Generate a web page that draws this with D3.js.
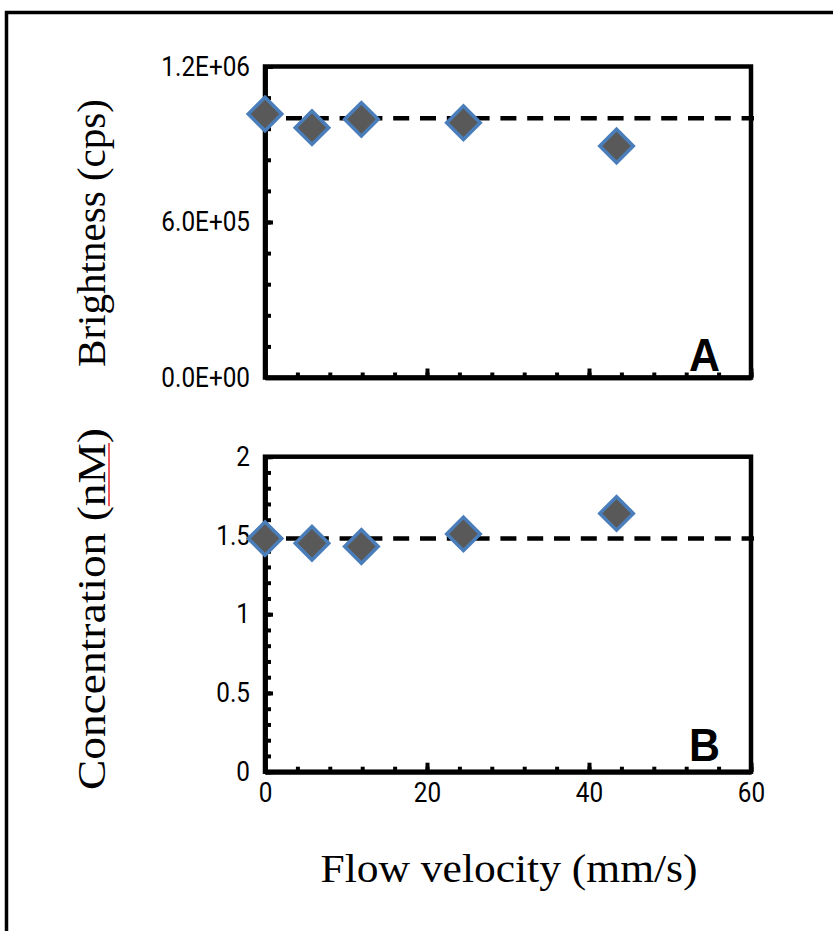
<!DOCTYPE html>
<html>
<head>
<meta charset="utf-8">
<script src="https://cdn.jsdelivr.net/npm/d3@7"></script>
<style>
  body { margin: 0; background: #fff; }
  svg { display: block; }
</style>
</head>
<body>
<div id="chart"></div>
<script>
// flow velocity (mm/s) of each measurement
var velocity = [0, 5.8, 11.9, 24.5, 43.4];
// panel A: brightness (cps)
var brightness = [1.017e6, 0.964e6, 0.996e6, 0.983e6, 0.893e6];
var brightnessMean = 1.0e6;
// panel B: concentration (nM)
var concentration = [1.48, 1.45, 1.43, 1.51, 1.64];
var concentrationMean = 1.48;

var velocityTicks = [0, 20, 40, 60];
var brightnessTicks = [0, 6e5, 1.2e6];
var concentrationTicks = [0, 0.5, 1, 1.5, 2];

var width = 833, height = 931;
var tickFont = "'Liberation Sans Narrow', 'Roboto', sans-serif";
var titleFont = "'Liberation Serif', serif";

var svg = d3.select("#chart").append("svg")
    .attr("width", width)
    .attr("height", height);

// page frame (runs off the right and bottom edge)
svg.append("rect")
    .attr("x", 6.5)
    .attr("y", 12.5)
    .attr("width", 900)
    .attr("height", 1000)
    .attr("fill", "none")
    .attr("stroke", "#000")
    .attr("stroke-width", 3.5);

var x = d3.scaleLinear().domain([0, 60]).range([265, 751]);

function sciLabel(v) {
    var parts = d3.format(".1e")(v).split("e");
    var exp = parseInt(parts[1], 10);
    return parts[0] + "E" + (exp < 0 ? "-" : "+") + String(Math.abs(exp)).padStart(2, "0");
}

function drawPanel(cfg) {
    var y = d3.scaleLinear().domain(cfg.domain).range([cfg.bottom, cfg.top]);
    var g = svg.append("g");

    // minor ticks, pointing into the plot
    g.append("g")
        .attr("transform", "translate(0," + cfg.bottom + ")")
        .call(d3.axisBottom(x).tickValues(d3.range(0, 60.001, 4)).tickSize(-5).tickSizeOuter(0).tickFormat(""))
        .call(styleAxis);
    g.append("g")
        .attr("transform", "translate(" + x(0) + ",0)")
        .call(d3.axisLeft(y).tickValues(d3.range(0, cfg.domain[1] * 1.0001, cfg.minor)).tickSize(-6).tickSizeOuter(0).tickFormat(""))
        .call(styleAxis);

    // major ticks with labels
    g.append("g")
        .attr("transform", "translate(0," + cfg.bottom + ")")
        .call(d3.axisBottom(x).tickValues(velocityTicks).tickSize(-9).tickSizeOuter(0).tickPadding(11)
            .tickFormat(cfg.showX ? d3.format("d") : ""))
        .call(styleAxis);
    g.append("g")
        .attr("transform", "translate(" + x(0) + ",0)")
        .call(d3.axisLeft(y).tickValues(cfg.ticks).tickSize(-8).tickSizeOuter(0).tickPadding(15).tickFormat(cfg.format))
        .call(styleAxis);

    // plot frame
    g.append("rect")
        .attr("x", x(0))
        .attr("y", cfg.top)
        .attr("width", x(60) - x(0))
        .attr("height", cfg.bottom - cfg.top)
        .attr("fill", "none")
        .attr("stroke", "#000")
        .attr("stroke-width", 4.5);

    // mean line
    g.append("line")
        .attr("x1", x(0))
        .attr("x2", x(60) + 3)
        .attr("y1", y(cfg.mean))
        .attr("y2", y(cfg.mean))
        .attr("stroke", "#000")
        .attr("stroke-width", 4.5)
        .attr("stroke-dasharray", "16,10.8")
        .attr("stroke-dashoffset", 5.8);

    var diamond = d3.symbol().type(d3.symbolSquare).size(560);
    g.selectAll(".pt")
        .data(cfg.values)
        .enter().append("path")
        .attr("class", "pt")
        .attr("d", diamond)
        .attr("transform", function(d, i) {
            return "translate(" + x(velocity[i]) + "," + y(d) + ") rotate(45)";
        })
        .attr("fill", "#595959")
        .attr("stroke", "#4a7ebb")
        .attr("stroke-width", 3.5);

    g.append("text")
        .attr("x", 720)
        .attr("y", cfg.letterY)
        .attr("text-anchor", "end")
        .attr("font-family", "'Liberation Sans', sans-serif")
        .attr("font-weight", "bold")
        .attr("font-size", 46)
        .attr("textLength", 31)
        .attr("lengthAdjust", "spacingAndGlyphs")
        .text(cfg.letter);

    // axis title, rotated
    var title = g.append("text")
        .attr("transform", "translate(105," + cfg.titleY + ") rotate(-90)")
        .attr("text-anchor", "middle")
        .attr("font-family", titleFont)
        .attr("font-size", 40)
        .attr("textLength", cfg.titleLength)
        .attr("lengthAdjust", "spacingAndGlyphs")
        .text(cfg.title);

    if (cfg.underline) {
        var node = title.node();
        var start = cfg.title.indexOf(cfg.underline);
        var end = start + cfg.underline.length - 1;
        var p0 = node.getStartPositionOfChar(start);
        var p1 = node.getEndPositionOfChar(end);
        g.append("line")
            .attr("transform", "translate(105," + cfg.titleY + ") rotate(-90)")
            .attr("x1", p0.x)
            .attr("x2", p1.x)
            .attr("y1", 4)
            .attr("y2", 4)
            .attr("stroke", "#e8202a")
            .attr("stroke-width", 1.5);
    }
}

function styleAxis(sel) {
    sel.select(".domain").attr("stroke", "#000").attr("stroke-width", 4.5);
    sel.selectAll(".tick line").attr("stroke", "#000").attr("stroke-width", 4);
    sel.selectAll(".tick text")
        .attr("fill", "#000")
        .attr("font-family", tickFont)
        .attr("font-size", 27)
        .each(function() {
            // narrow the glyphs a little, like the original's condensed face
            var len = this.getComputedTextLength();
            if (len > 0) {
                d3.select(this)
                    .attr("textLength", len * 0.9)
                    .attr("lengthAdjust", "spacingAndGlyphs");
            }
        });
}

drawPanel({
    domain: [0, 1.2e6],
    top: 66.5,
    bottom: 377.5,
    minor: 1.2e5,
    ticks: brightnessTicks,
    format: sciLabel,
    values: brightness,
    mean: brightnessMean,
    showX: false,
    letter: "A",
    letterY: 371,
    title: "Brightness (cps)",
    titleY: 233,
    titleLength: 268
});

drawPanel({
    domain: [0, 2],
    top: 456.7,
    bottom: 771.7,
    minor: 0.1,
    ticks: concentrationTicks,
    format: function(v) { return String(v); },
    values: concentration,
    mean: concentrationMean,
    showX: true,
    letter: "B",
    letterY: 761,
    title: "Concentration (nM)",
    titleY: 609,
    titleLength: 362,
    underline: "nM"
});

svg.append("text")
    .attr("x", 509)
    .attr("y", 882)
    .attr("text-anchor", "middle")
    .attr("font-family", titleFont)
    .attr("font-size", 40)
    .attr("textLength", 377)
    .attr("lengthAdjust", "spacingAndGlyphs")
    .text("Flow velocity (mm/s)");
</script>
</body>
</html>
